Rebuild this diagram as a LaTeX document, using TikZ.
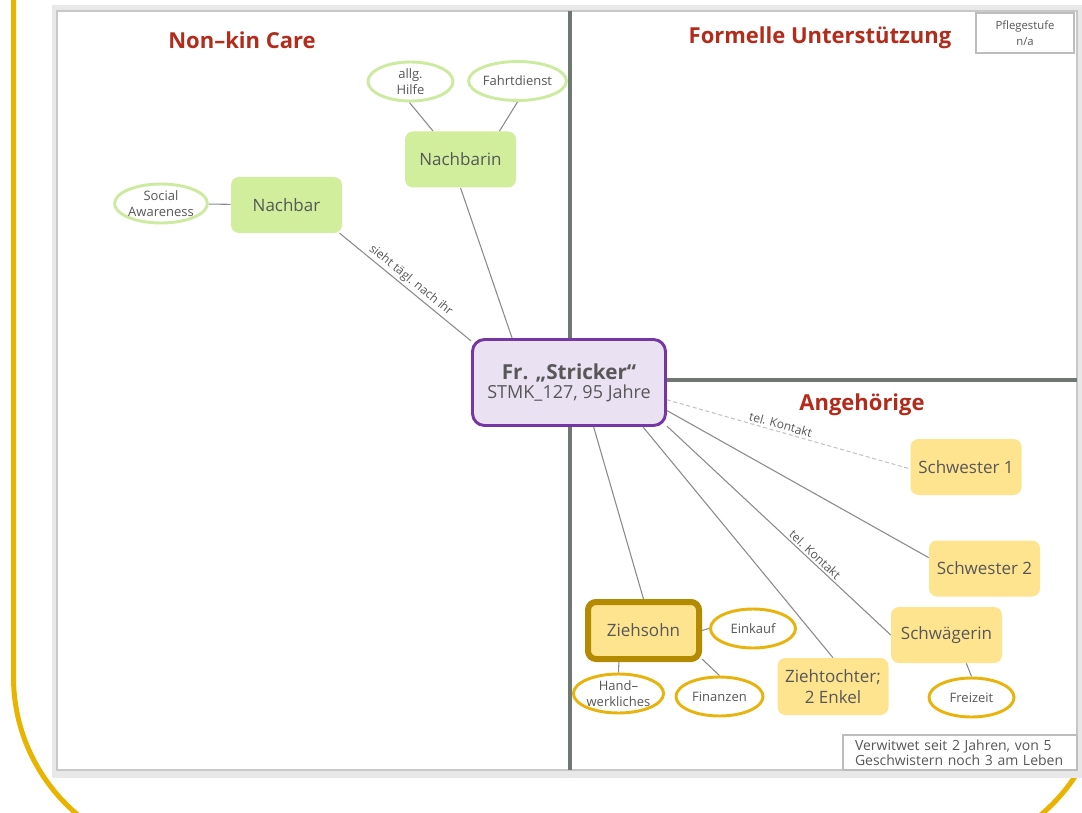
\documentclass[tikz,border=0pt]{standalone}
\usepackage{fontspec}
\setmainfont{Open Sans}
\usetikzlibrary{shapes.geometric,calc}

\definecolor{frameyellow}{HTML}{E8B400}
\definecolor{panelgray}{HTML}{E8E8E8}
\definecolor{panelline}{HTML}{C8C8C8}
\definecolor{quadline}{HTML}{6E7772}
\definecolor{titlered}{HTML}{B22B1B}
\definecolor{textgray}{HTML}{575757}
\definecolor{linkgray}{HTML}{8A8A8A}
\definecolor{dashgray}{HTML}{C4C4C4}
\definecolor{greenfill}{HTML}{D0EE9C}
\definecolor{greenring}{HTML}{CDEBA0}
\definecolor{yellowfill}{HTML}{FFE48F}
\definecolor{yellowring}{HTML}{E8B30C}
\definecolor{darkgold}{HTML}{B38A00}
\definecolor{purpleline}{HTML}{7636A6}
\definecolor{purplefill}{HTML}{EAE2F2}
\definecolor{notegray}{HTML}{BDBDBD}

\pgfdeclarelayer{panel}
\pgfdeclarelayer{links}
\pgfsetlayers{panel,links,main}

\tikzset{
  quadtitle/.style={text=titlered, font=\fontsize{16.5}{20}\selectfont\bfseries},
  person/.style={rectangle, rounded corners=6pt, minimum width=83.25pt,
    minimum height=42pt, inner sep=0pt, align=center, text=textgray,
    font=\fontsize{12.75}{16}\selectfont},
  greenbox/.style={person, fill=greenfill},
  yellowbox/.style={person, fill=yellowfill},
  topic/.style={ellipse, draw, fill=white, line width=2.2pt, minimum width=63.75pt,
    minimum height=29.25pt, inner sep=0pt, align=center, text=textgray,
    font=\fontsize{9.75}{11.5}\selectfont},
  greentopic/.style={topic, draw=greenring},
  yellowtopic/.style={topic, draw=yellowring},
  link/.style={draw=linkgray, line width=0.8pt},
  phonelink/.style={draw=dashgray, line width=0.8pt, dash pattern=on 3pt off 2pt},
  linklabel/.style={sloped, above, inner sep=1.5pt, text=textgray,
    font=\fontsize{9}{10}\selectfont},
  notebox/.style={draw=notegray, fill=white, inner sep=0pt, text=textgray}
}

\begin{document}
\begin{tikzpicture}[x=0.75pt,y=-0.75pt]
\useasboundingbox (0,0) rectangle (1082,813);

% page frame and panel
\begin{pgfonlayer}{panel}
  \fill[white] (0,0) rectangle (1082,813);
  \draw[frameyellow, line width=3.75pt, rounded corners=135pt]
    (13.5,-300) rectangle (1105,857);
  \fill[panelgray] (52,5) rectangle (1090,778);
  \draw[panelline, fill=white, line width=0.9pt] (57,11) rectangle (1077,770);
  % quadrant dividers
  \draw[quadline, line width=2.3pt] (570,11) -- (570,770);
  \draw[quadline, line width=2.3pt] (570,380) -- (1077,380);
\end{pgfonlayer}

% quadrant headings
\node[quadtitle] (tnonkin) at (242,40) {Non–kin Care};
\node[quadtitle] (tformal) at (820,38) {Formelle Unterstützung};
\node[quadtitle] (tfamily) at (862,405) {Angehörige};

% info boxes
\node[notebox, line width=1.8pt, minimum width=73.5pt, minimum height=30pt,
  align=center, font=\fontsize{8.5}{12}\selectfont] (pflege) at (1025,33)
  {Pflegestufe\\n/a};
\node[notebox, line width=1.5pt, minimum height=26.25pt, text width=157.5pt,
  inner xsep=9pt, align=left, font=\fontsize{10.5}{11.25}\selectfont]
  (note) at (960,752.5)
  {Verwitwet seit 2 Jahren, von 5\\Geschwistern noch 3 am Leben};

% central person
\node[rectangle, rounded corners=9pt, draw=purpleline, fill=purplefill,
  line width=2.2pt, minimum width=144.75pt, minimum height=64.5pt,
  inner sep=0pt, align=center, text=textgray] (c) at (569,382.5)
  {{\fontsize{15.5}{19}\selectfont\bfseries Fr. „Stricker“}\\[1pt]
   {\fontsize{13.5}{16}\selectfont STMK\_127, 95 Jahre}};

% non-kin care
\node[greenbox] (nachbar) at (286.5,205) {Nachbar};
\node[greenbox] (nachbarin) at (460.5,159.5) {Nachbarin};
\node[greentopic] (social) at (161,203.5) {Social\\Awareness};
\node[greentopic] (hilfe) at (410.5,81.5) {allg.\\Hilfe};
\node[greentopic, minimum width=65.25pt] (fahrt) at (517.5,81) {Fahrtdienst};

% relatives
\node[yellowbox] (s1) at (966,467) {Schwester 1};
\node[yellowbox] (s2) at (984.5,568.5) {Schwester 2};
\node[yellowbox] (sw) at (946.5,635) {Schwägerin};
\node[yellowbox, minimum height=42.75pt] (zt) at (833,686.5) {Ziehtochter;\\2 Enkel};
\node[yellowbox, draw=darkgold, line width=4.5pt, minimum height=42.75pt]
  (zs) at (643.5,630.5) {Ziehsohn};
\node[yellowtopic] (einkauf) at (753,628.5) {Einkauf};
\node[yellowtopic, minimum width=65.25pt] (hand) at (618.5,693.5) {Hand–\\werkliches};
\node[yellowtopic, minimum width=65.25pt] (finanz) at (719.5,696.5) {Finanzen};
\node[yellowtopic] (freizeit) at (971.5,697.5) {Freizeit};

% connectors
\begin{pgfonlayer}{links}
  \draw[link] (social) -- (nachbar);
  \draw[link] (hilfe.-93) -- (nachbarin.134);
  \draw[link] (fahrt.south) -- (nachbarin.36.5);
  \draw[link] (nachbarin.south) -- (c.142);
  \draw[link] (nachbar.-28) -- node[linklabel, pos=0.5] {sieht tägl. nach ihr} (c.157);
  \draw[phonelink] (c.-10) -- node[linklabel, pos=0.46] {tel. Kontakt} (s1.182);
  \draw[link] (c.-16) -- (s2.169);
  \draw[link] (c.-24) -- node[linklabel, pos=0.64] {tel. Kontakt} (sw.west);
  \draw[link] (c.-31) -- (zt.north);
  \draw[link] (c.-61) -- (zs.north);
  \draw[link] (zs.east) -- (einkauf.west);
  \draw[link] (zs.-128) -- (hand.north);
  \draw[link] (zs.-26) -- (finanz.north);
  \draw[link] (sw.-55) -- (freizeit.north);
\end{pgfonlayer}
\end{tikzpicture}
\end{document}
